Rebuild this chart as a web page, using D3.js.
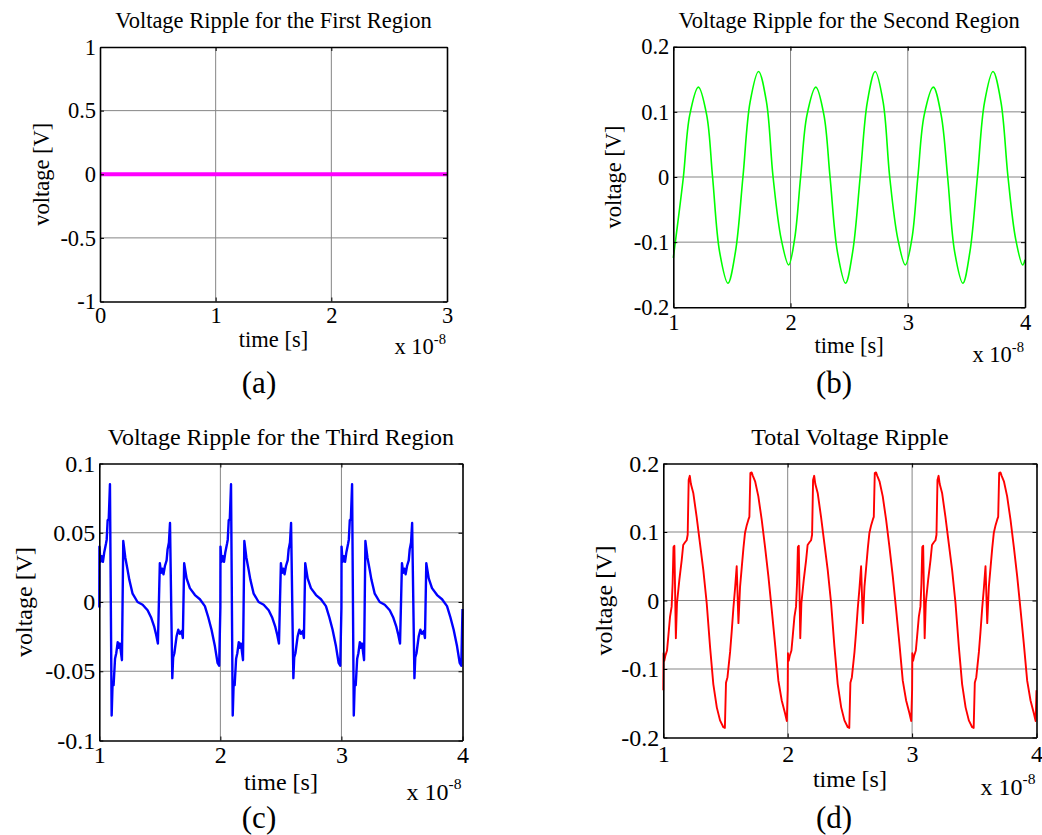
<!DOCTYPE html>
<html>
<head>
<meta charset="utf-8">
<script src="https://cdn.jsdelivr.net/npm/d3@7"></script>
<style>
  body { margin: 0; background: #fff; }
  text { font-family: "Times New Roman", "Liberation Serif", serif; fill: #000; }
</style>
</head>
<body>
<svg id="chart" width="1042" height="835"></svg>
<script>
// ---------------- DATA ----------------
const titles = [
  "Voltage Ripple for the First Region",
  "Voltage Ripple for the Second Region",
  "Voltage Ripple for the Third Region",
  "Total Voltage Ripple"
];
const panelLabels = ["(a)", "(b)", "(c)", "(d)"];
const xLabel = "time [s]";
const yLabel = "voltage [V]";
const xScaleBase = "x 10";
const xScaleExp = "-8";

const xTicksA = [0, 1, 2, 3];
const yTicksA = [-1, -0.5, 0, 0.5, 1];
const xTicksB = [1, 2, 3, 4];
const yTicksB = [-0.2, -0.1, 0, 0.1, 0.2];
const xTicksC = [1, 2, 3, 4];
const yTicksC = [-0.1, -0.05, 0, 0.05, 0.1];
const xTicksD = [1, 2, 3, 4];
const yTicksD = [-0.2, -0.1, 0, 0.1, 0.2];

// (a) first region (time in units of 1e-8 s)
const timeA = [0, 3];
const voltA = [0, 0];

// (b) second region
const timeB = [
  1.000, 1.035,
  1.086, 1.140, 1.214, 1.285, 1.335, 1.395, 1.466, 1.530, 1.594, 1.655, 1.727, 1.795, 1.851, 1.920, 1.984, 2.035,
  2.086, 2.140, 2.216, 2.285, 2.337, 2.400, 2.469, 2.530, 2.594, 2.655, 2.722, 2.790, 2.846, 2.915, 2.979, 3.035,
  3.086, 3.140, 3.218, 3.285, 3.340, 3.400, 3.470, 3.530, 3.594, 3.655, 3.727, 3.795, 3.855, 3.920, 3.980,
  4.000
];
const voltB = [
  -0.124, -0.075,
  0.000, 0.095, 0.138, 0.095, 0.000, -0.115, -0.163, -0.115, 0.000, 0.115, 0.162, 0.115, 0.000, -0.095, -0.135, -0.095,
  0.000, 0.095, 0.138, 0.095, 0.000, -0.115, -0.163, -0.115, 0.000, 0.115, 0.162, 0.115, 0.000, -0.095, -0.135, -0.095,
  0.000, 0.095, 0.138, 0.095, 0.000, -0.115, -0.163, -0.115, 0.000, 0.115, 0.162, 0.115, 0.000, -0.095, -0.135,
  -0.127
];

// (c) third region
const timeC = [
  1.000, 1.001, 1.010, 1.020, 1.030, 1.041, 1.055, 1.061, 1.069, 1.078, 1.088, 1.102, 1.110, 1.118, 1.130, 1.140, 1.152, 1.160, 1.170, 1.187,
  1.198, 1.215, 1.234, 1.248, 1.275, 1.316, 1.358, 1.399, 1.427, 1.454, 1.468, 1.484, 1.500, 1.510, 1.520, 1.530, 1.542, 1.556, 1.564, 1.575,
  1.584, 1.603, 1.610, 1.620, 1.638, 1.652, 1.665, 1.680, 1.690, 1.701, 1.721, 1.748, 1.790, 1.831, 1.872, 1.900, 1.927, 1.955, 1.977, 1.990,
  2.000, 2.001, 2.010, 2.020, 2.030, 2.041, 2.055, 2.061, 2.069, 2.078, 2.088, 2.102, 2.110, 2.118, 2.130, 2.140, 2.152, 2.160, 2.170, 2.187,
  2.198, 2.215, 2.234, 2.248, 2.275, 2.316, 2.358, 2.399, 2.427, 2.454, 2.468, 2.484, 2.500, 2.510, 2.520, 2.530, 2.542, 2.556, 2.564, 2.575,
  2.584, 2.603, 2.610, 2.620, 2.638, 2.652, 2.665, 2.680, 2.690, 2.701, 2.721, 2.748, 2.790, 2.831, 2.872, 2.900, 2.927, 2.955, 2.977, 2.990,
  3.000, 3.001, 3.010, 3.020, 3.030, 3.041, 3.055, 3.061, 3.069, 3.078, 3.088, 3.102, 3.110, 3.118, 3.130, 3.140, 3.152, 3.160, 3.170, 3.187,
  3.198, 3.215, 3.234, 3.248, 3.275, 3.316, 3.358, 3.399, 3.427, 3.454, 3.468, 3.484, 3.500, 3.510, 3.520, 3.530, 3.542, 3.556, 3.564, 3.575,
  3.584, 3.603, 3.610, 3.620, 3.638, 3.652, 3.665, 3.680, 3.690, 3.701, 3.721, 3.748, 3.790, 3.831, 3.872, 3.900, 3.927, 3.955, 3.977, 3.990,
  4.000
];
const voltC = [
  -0.004, 0.040, 0.029, 0.033, 0.029, 0.036, 0.042, 0.045, 0.059, 0.060, 0.085, -0.082, -0.058, -0.060, -0.041, -0.037, -0.029, -0.033, -0.030, -0.042,
  0.044, 0.032, 0.023, 0.016, 0.006, 0.000, -0.002, -0.006, -0.011, -0.018, -0.023, -0.030, 0.028, 0.021, 0.024, 0.020, 0.026, 0.030, 0.038, 0.043,
  0.057, -0.055, -0.040, -0.037, -0.025, -0.020, -0.023, -0.021, -0.026, 0.028, 0.017, 0.010, 0.005, 0.002, -0.003, -0.011, -0.020, -0.032, -0.044, -0.046,
  -0.004, 0.040, 0.029, 0.033, 0.029, 0.036, 0.042, 0.045, 0.059, 0.060, 0.085, -0.082, -0.058, -0.060, -0.041, -0.037, -0.029, -0.033, -0.030, -0.042,
  0.044, 0.032, 0.023, 0.016, 0.006, 0.000, -0.002, -0.006, -0.011, -0.018, -0.023, -0.030, 0.028, 0.021, 0.024, 0.020, 0.026, 0.030, 0.038, 0.043,
  0.057, -0.055, -0.040, -0.037, -0.025, -0.020, -0.023, -0.021, -0.026, 0.028, 0.017, 0.010, 0.005, 0.002, -0.003, -0.011, -0.020, -0.032, -0.044, -0.046,
  -0.004, 0.040, 0.029, 0.033, 0.029, 0.036, 0.042, 0.045, 0.059, 0.060, 0.085, -0.082, -0.058, -0.060, -0.041, -0.037, -0.029, -0.033, -0.030, -0.042,
  0.044, 0.032, 0.023, 0.016, 0.006, 0.000, -0.002, -0.006, -0.011, -0.018, -0.023, -0.030, 0.028, 0.021, 0.024, 0.020, 0.026, 0.030, 0.038, 0.043,
  0.057, -0.055, -0.040, -0.037, -0.025, -0.020, -0.023, -0.021, -0.026, 0.028, 0.017, 0.010, 0.005, 0.002, -0.003, -0.011, -0.020, -0.032, -0.044, -0.046,
  -0.005
];

// (d) total ripple
const timeD = [
  1.000, 1.002, 1.008, 1.016, 1.030, 1.040, 1.054, 1.067, 1.075, 1.082, 1.089, 1.101, 1.110, 1.129, 1.148, 1.160, 1.175, 1.188, 1.196, 1.204, 1.213,
  1.222, 1.241, 1.268, 1.295, 1.322, 1.349, 1.376, 1.402, 1.430, 1.456, 1.483, 1.495, 1.504, 1.516, 1.537, 1.550, 1.563, 1.577, 1.590, 1.604,
  1.617, 1.631, 1.644, 1.657, 1.671, 1.684, 1.692, 1.700, 1.710, 1.720, 1.738, 1.764, 1.791, 1.818, 1.845, 1.872, 1.898, 1.925, 1.952, 1.979, 1.993,
  2.000, 2.002, 2.008, 2.016, 2.030, 2.040, 2.054, 2.067, 2.075, 2.082, 2.089, 2.101, 2.110, 2.129, 2.148, 2.160, 2.175, 2.188, 2.196, 2.204, 2.213,
  2.222, 2.241, 2.268, 2.295, 2.322, 2.349, 2.376, 2.402, 2.430, 2.456, 2.483, 2.495, 2.504, 2.516, 2.537, 2.550, 2.563, 2.577, 2.590, 2.604,
  2.617, 2.631, 2.644, 2.657, 2.671, 2.684, 2.692, 2.700, 2.710, 2.720, 2.738, 2.764, 2.791, 2.818, 2.845, 2.872, 2.898, 2.925, 2.952, 2.979, 2.993,
  3.000, 3.002, 3.008, 3.016, 3.030, 3.040, 3.054, 3.067, 3.075, 3.082, 3.089, 3.101, 3.110, 3.129, 3.148, 3.160, 3.175, 3.188, 3.196, 3.204, 3.213,
  3.222, 3.241, 3.268, 3.295, 3.322, 3.349, 3.376, 3.402, 3.430, 3.456, 3.483, 3.495, 3.504, 3.516, 3.537, 3.550, 3.563, 3.577, 3.590, 3.604,
  3.617, 3.631, 3.644, 3.657, 3.671, 3.684, 3.692, 3.700, 3.710, 3.720, 3.738, 3.764, 3.791, 3.818, 3.845, 3.872, 3.898, 3.925, 3.952, 3.979, 3.993,
  4.000
];
const voltD = [
  -0.131, -0.077, -0.088, -0.081, -0.073, -0.053, -0.024, -0.009, 0.025, 0.078, 0.080, -0.055, -0.004, 0.030, 0.059, 0.081, 0.085, 0.088, 0.096, 0.176, 0.182,
  0.170, 0.157, 0.122, 0.083, 0.044, -0.004, -0.068, -0.122, -0.156, -0.175, -0.185, -0.186, -0.120, -0.112, -0.075, -0.045, -0.012, 0.018, 0.050, -0.033,
  0.020, 0.049, 0.076, 0.099, 0.110, 0.118, 0.122, 0.186, 0.187, 0.182, 0.174, 0.152, 0.118, 0.078, 0.035, -0.014, -0.063, -0.117, -0.146, -0.165, -0.176,
  -0.131, -0.077, -0.088, -0.081, -0.073, -0.053, -0.024, -0.009, 0.025, 0.078, 0.080, -0.055, -0.004, 0.030, 0.059, 0.081, 0.085, 0.088, 0.096, 0.176, 0.182,
  0.170, 0.157, 0.122, 0.083, 0.044, -0.004, -0.068, -0.122, -0.156, -0.175, -0.185, -0.186, -0.120, -0.112, -0.075, -0.045, -0.012, 0.018, 0.050, -0.033,
  0.020, 0.049, 0.076, 0.099, 0.110, 0.118, 0.122, 0.186, 0.187, 0.182, 0.174, 0.152, 0.118, 0.078, 0.035, -0.014, -0.063, -0.117, -0.146, -0.165, -0.176,
  -0.131, -0.077, -0.088, -0.081, -0.073, -0.053, -0.024, -0.009, 0.025, 0.078, 0.080, -0.055, -0.004, 0.030, 0.059, 0.081, 0.085, 0.088, 0.096, 0.176, 0.182,
  0.170, 0.157, 0.122, 0.083, 0.044, -0.004, -0.068, -0.122, -0.156, -0.175, -0.185, -0.186, -0.120, -0.112, -0.075, -0.045, -0.012, 0.018, 0.050, -0.033,
  0.020, 0.049, 0.076, 0.099, 0.110, 0.118, 0.122, 0.186, 0.187, 0.182, 0.174, 0.152, 0.118, 0.078, 0.035, -0.014, -0.063, -0.117, -0.146, -0.165, -0.176,
  -0.131
];

// ---------------- LAYOUT ----------------
const panels = [
  { t: timeA, v: voltA, xt: xTicksA, yt: yTicksA, xDom: [0, 3], yDom: [-1, 1],
    left: 100, right: 447, top: 47, bottom: 301.5,
    color: "#ff00ff", lw: 4, curve: d3.curveLinear, fs: 22.5,
    titleY: 28, tickBase: 323, xLabY: 347, expY: 354, yLabX: 49, labX: 259, labY: 392.5 },
  { t: timeB, v: voltB, xt: xTicksB, yt: yTicksB, xDom: [1, 4], yDom: [-0.2, 0.2],
    left: 673.3, right: 1025, top: 46.7, bottom: 307.3,
    color: "#00ff00", lw: 1.6, curve: d3.curveCatmullRom.alpha(0.5), fs: 22.5,
    titleY: 28, tickBase: 330, xLabY: 353, expY: 362, yLabX: 621, labX: 834, labY: 392.5 },
  { t: timeC, v: voltC, xt: xTicksC, yt: yTicksC, xDom: [1, 4], yDom: [-0.1, 0.1],
    left: 99.3, right: 462.5, top: 463.5, bottom: 740.5,
    color: "#0000ff", lw: 2.4, curve: d3.curveLinear, fs: 24,
    titleY: 445, tickBase: 763, xLabY: 790, expY: 800, yLabX: 31.5, labX: 259, labY: 828 },
  { t: timeD, v: voltD, xt: xTicksD, yt: yTicksD, xDom: [1, 4], yDom: [-0.2, 0.2],
    left: 663.3, right: 1036.5, top: 463.5, bottom: 737.5,
    color: "#ff0000", lw: 1.9, curve: d3.curveLinear, fs: 24,
    titleY: 445, tickBase: 762, xLabY: 787, expY: 795, yLabX: 612, labX: 834, labY: 828 }
];

const svg = d3.select("#chart");
const fmt = d => String(d);
const serif = '"Times New Roman", "Liberation Serif", serif';

panels.forEach((p, i) => {
  const x = d3.scaleLinear().domain(p.xDom).range([p.left, p.right]);
  const y = d3.scaleLinear().domain(p.yDom).range([p.bottom, p.top]);
  const g = svg.append("g");

  // grid
  g.append("g").selectAll("line").data(p.xt.slice(1, -1)).join("line")
    .attr("x1", d => x(d)).attr("x2", d => x(d)).attr("y1", p.top).attr("y2", p.bottom)
    .attr("stroke", "#858585").attr("stroke-width", 1);
  g.append("g").selectAll("line").data(p.yt.slice(1, -1)).join("line")
    .attr("y1", d => y(d)).attr("y2", d => y(d)).attr("x1", p.left).attr("x2", p.right)
    .attr("stroke", "#858585").attr("stroke-width", 1);

  // data line
  g.append("path")
    .datum(d3.zip(p.t, p.v))
    .attr("fill", "none")
    .attr("stroke", p.color)
    .attr("stroke-width", p.lw)
    .attr("stroke-linejoin", "round")
    .attr("d", d3.line().x(d => x(d[0])).y(d => y(d[1])).curve(p.curve));

  // axes
  const style = sel => {
    sel.attr("font-size", p.fs).attr("font-family", serif);
    sel.select(".domain").attr("stroke", "#000").attr("stroke-width", 1.6);
    sel.selectAll(".tick line").attr("stroke", "#000").attr("stroke-width", 1);
    sel.selectAll(".tick text").attr("fill", "#000");
  };
  const xPad = p.tickBase - p.bottom - 0.71 * p.fs;
  g.append("g").attr("transform", `translate(0,${p.bottom})`)
    .call(d3.axisBottom(x).tickValues(p.xt).tickFormat(fmt).tickSizeInner(-4).tickSizeOuter(0).tickPadding(xPad))
    .call(style);
  g.append("g").attr("transform", `translate(0,${p.top})`)
    .call(d3.axisTop(x).tickValues(p.xt).tickFormat("").tickSizeInner(-4).tickSizeOuter(0))
    .call(style);
  g.append("g").attr("transform", `translate(${p.left},0)`)
    .call(d3.axisLeft(y).tickValues(p.yt).tickFormat(fmt).tickSizeInner(-4).tickSizeOuter(0).tickPadding(4))
    .call(style);
  g.append("g").attr("transform", `translate(${p.right},0)`)
    .call(d3.axisRight(y).tickValues(p.yt).tickFormat("").tickSizeInner(-4).tickSizeOuter(0))
    .call(style);

  // title
  g.append("text").attr("x", (p.left + p.right) / 2).attr("y", p.titleY)
    .attr("text-anchor", "middle").attr("font-size", p.fs).text(titles[i]);

  // x label
  g.append("text").attr("x", (p.left + p.right) / 2).attr("y", p.xLabY)
    .attr("text-anchor", "middle").attr("font-size", p.fs).text(xLabel);

  // x scale factor
  const ex = g.append("text").attr("x", p.right - 1).attr("y", p.expY)
    .attr("text-anchor", "end").attr("font-size", p.fs);
  ex.append("tspan").text(xScaleBase);
  ex.append("tspan").attr("dy", -0.45 * p.fs).attr("font-size", p.fs * 0.65).text(xScaleExp);

  // y label
  g.append("text")
    .attr("transform", `translate(${p.yLabX},${(p.top + p.bottom) / 2}) rotate(-90)`)
    .attr("text-anchor", "middle").attr("font-size", p.fs).text(yLabel);

  // panel label
  g.append("text").attr("x", p.labX).attr("y", p.labY)
    .attr("text-anchor", "middle").attr("font-size", 31).text(panelLabels[i]);
});
</script>
</body>
</html>
